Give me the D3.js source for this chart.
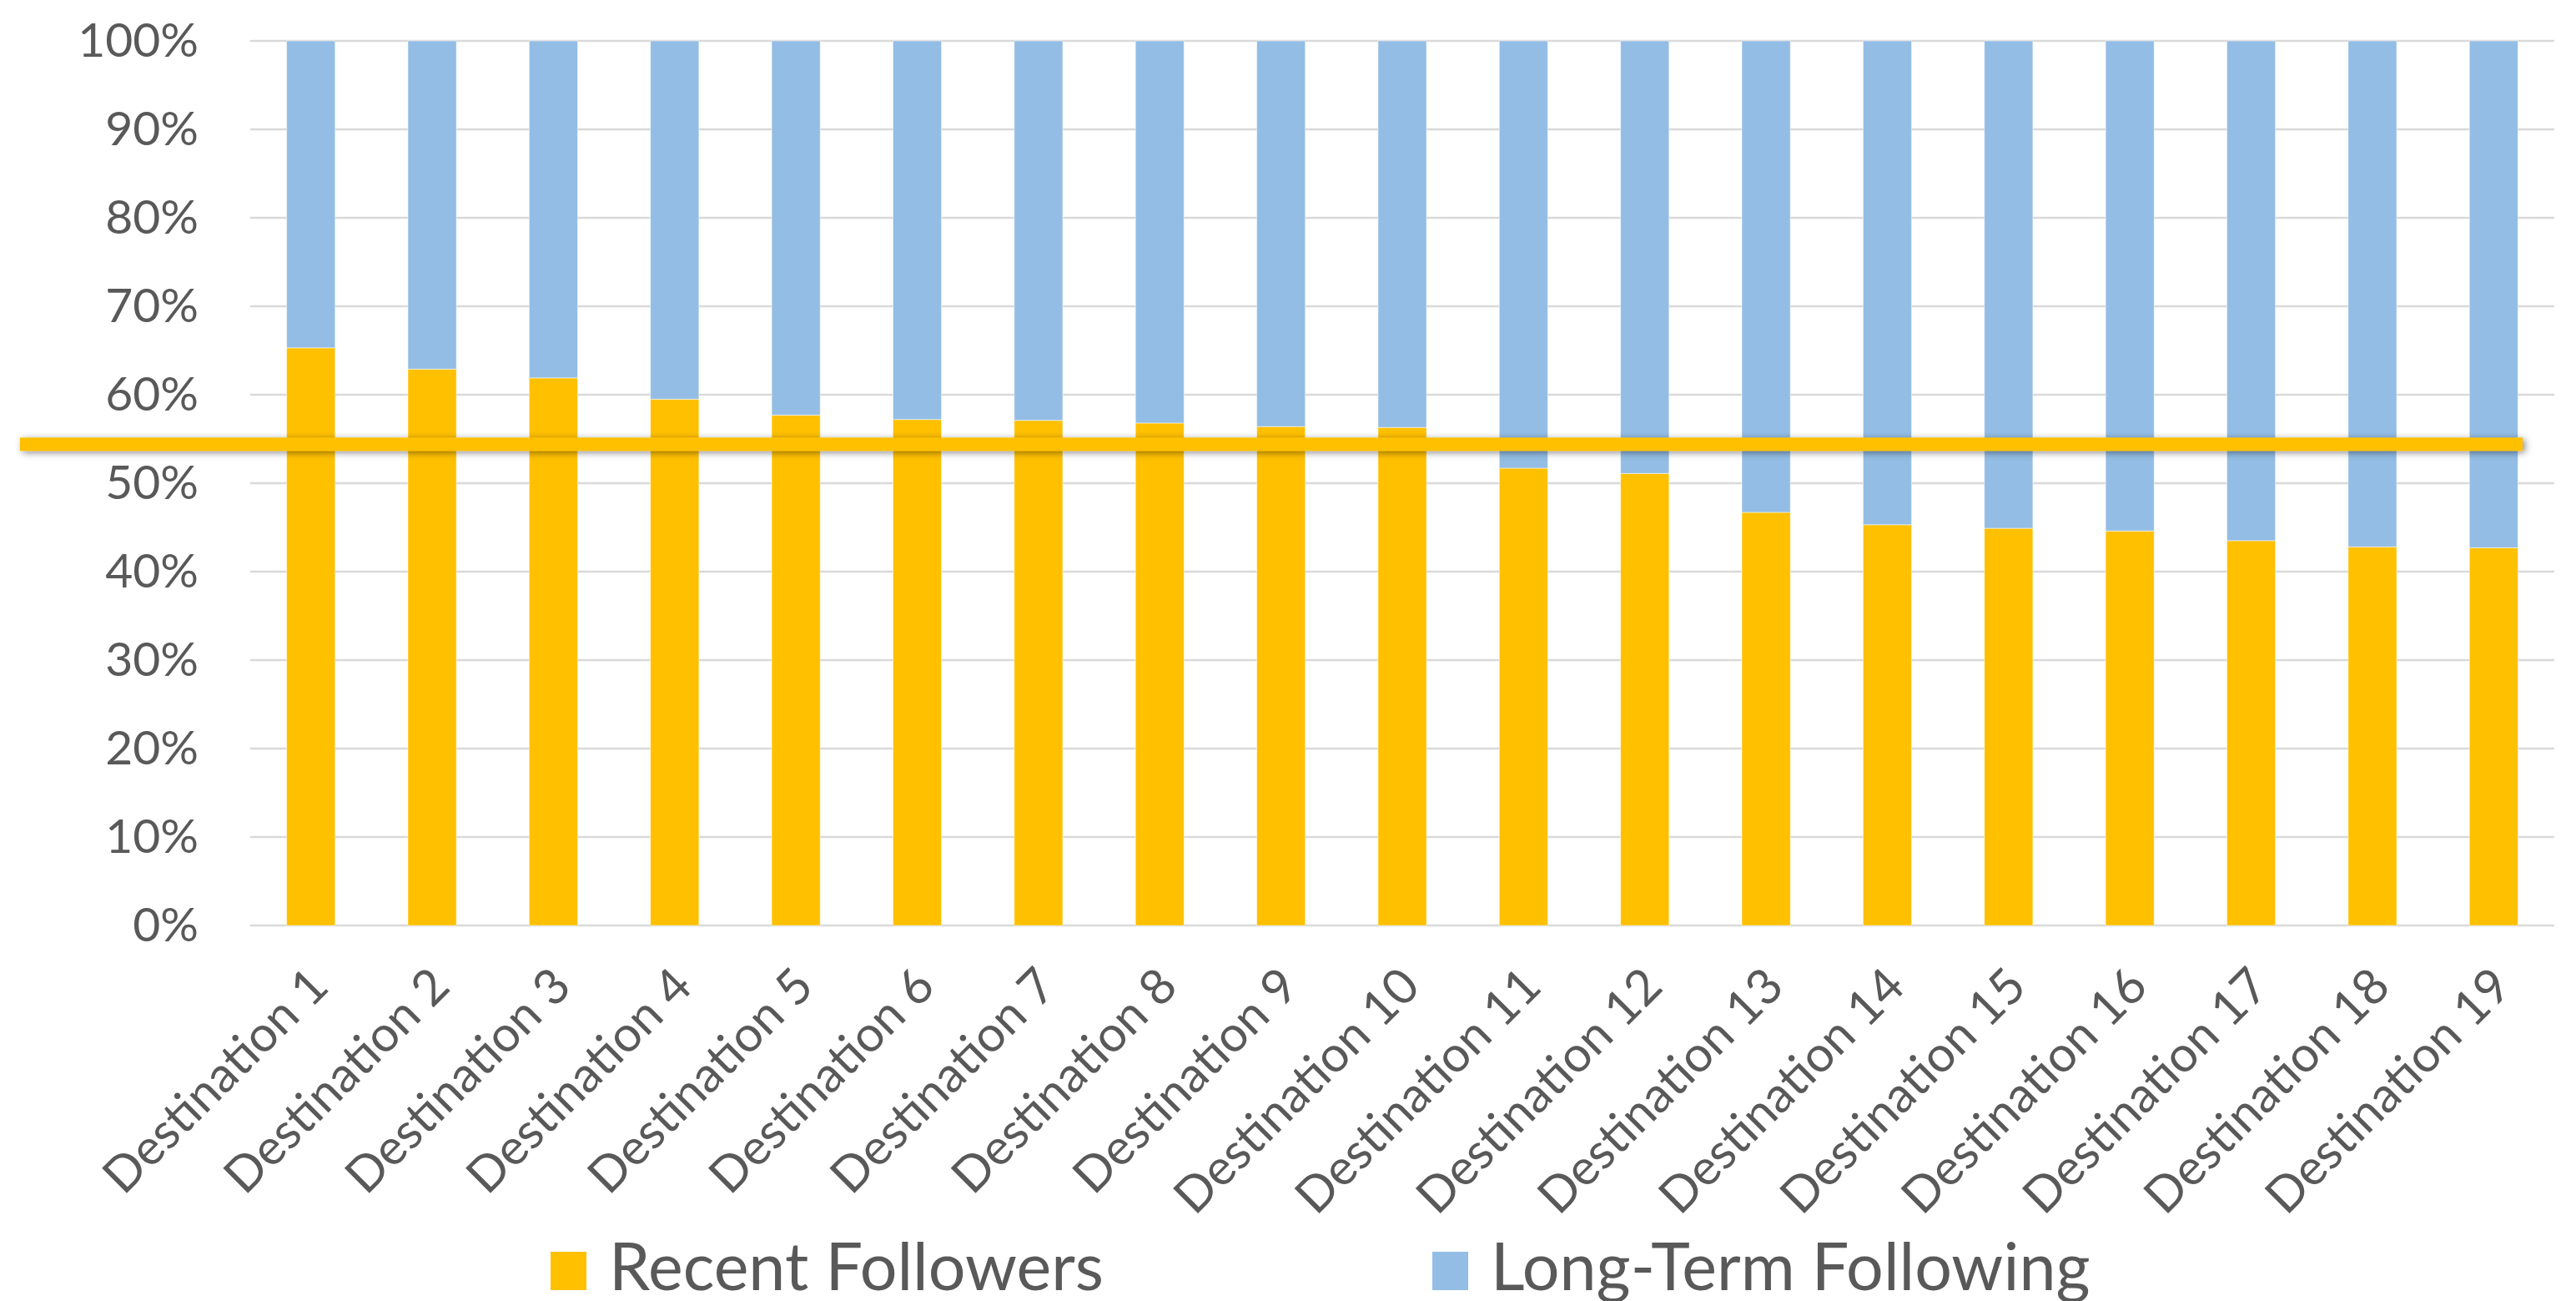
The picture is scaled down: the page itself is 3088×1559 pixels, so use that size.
<!DOCTYPE html>
<html>
<head>
<meta charset="utf-8">
<script src="https://cdn.jsdelivr.net/npm/d3@7"></script>
<style>
  html, body { margin: 0; padding: 0; background: #ffffff; }
  svg { display: block; }
  text { font-family: Lato, "Open Sans", sans-serif; fill: #595959; }
</style>
</head>
<body>
<svg id="chart" width="3088" height="1559"></svg>
<script>
// Destinations, in display order
const categories = [
  "Destination 1", "Destination 2", "Destination 3", "Destination 4", "Destination 5",
  "Destination 6", "Destination 7", "Destination 8", "Destination 9", "Destination 10",
  "Destination 11", "Destination 12", "Destination 13", "Destination 14", "Destination 15",
  "Destination 16", "Destination 17", "Destination 18", "Destination 19"
];

// Share of each audience (percent)
const recentFollowers = [65.3, 62.9, 61.9, 59.5, 57.7, 57.2, 57.1, 56.8, 56.4, 56.3,
                         51.7, 51.1, 46.7, 45.3, 44.9, 44.6, 43.5, 42.8, 42.7];
const longTermFollowing = [34.7, 37.1, 38.1, 40.5, 42.3, 42.8, 42.9, 43.2, 43.6, 43.7,
                           48.3, 48.9, 53.3, 54.7, 55.1, 55.4, 56.5, 57.2, 57.3];

const seriesNames = ["Recent Followers", "Long-Term Following"];
const seriesColors = ["#FFC000", "#93BDE4"];

// Highlight band drawn across the chart
const highlightLevel = 0.544;

const yTicks = [0, 0.1, 0.2, 0.3, 0.4, 0.5, 0.6, 0.7, 0.8, 0.9, 1.0];

const W = 3088, H = 1559;
const margin = { top: 49, right: 26, bottom: 450, left: 300 };
const innerW = W - margin.left - margin.right;
const innerH = H - margin.top - margin.bottom;

const svg = d3.select("#chart");

// Shadow for the highlight band
const defs = svg.append("defs");
const shadow = defs.append("filter")
  .attr("id", "bandShadow")
  .attr("filterUnits", "userSpaceOnUse")
  .attr("x", 0).attr("y", 0)
  .attr("width", W).attr("height", H);
shadow.append("feDropShadow")
  .attr("dx", 3).attr("dy", 2)
  .attr("stdDeviation", 4)
  .attr("flood-color", "#000")
  .attr("flood-opacity", 0.45);

const g = svg.append("g").attr("transform", `translate(${margin.left},${margin.top})`);

const x = d3.scaleBand().domain(categories).range([0, innerW]).paddingInner(0.6).paddingOuter(0.3);
const y = d3.scaleLinear().domain([0, 1]).range([innerH, 0]);

// Gridlines
g.append("g")
  .selectAll("line")
  .data(yTicks)
  .join("line")
  .attr("x1", 0).attr("x2", innerW)
  .attr("y1", d => y(d)).attr("y2", d => y(d))
  .attr("stroke", "#D9D9D9")
  .attr("stroke-width", 2.5);

// Y axis labels
const yAxis = d3.axisLeft(y).tickValues(yTicks).tickFormat(d3.format(".0%")).tickSize(0).tickPadding(62);
const yAxisG = g.append("g").call(yAxis);
yAxisG.select(".domain").remove();
yAxisG.selectAll("text")
  .attr("font-size", 57)
  .attr("fill", "#595959")
  .style("font-family", "Lato, sans-serif");

// Stacked bars (100% stacked)
const rows = categories.map((c, i) => ({
  category: c,
  [seriesNames[0]]: recentFollowers[i],
  [seriesNames[1]]: longTermFollowing[i]
}));
const stacked = d3.stack().keys(seriesNames).offset(d3.stackOffsetExpand)(rows);

g.append("g")
  .selectAll("g")
  .data(stacked)
  .join("g")
  .attr("fill", (d, i) => seriesColors[i])
  .selectAll("rect")
  .data(d => d)
  .join("rect")
  .attr("x", d => x(d.data.category))
  .attr("width", x.bandwidth())
  .attr("y", d => y(d[1]))
  .attr("height", d => y(d[0]) - y(d[1]))
  .attr("stroke", "#ffffff")
  .attr("stroke-opacity", 0.5)
  .attr("stroke-width", 1);

// X axis labels, rotated
const xAxis = d3.axisBottom(x).tickSize(0).tickPadding(0);
const xAxisG = g.append("g").attr("transform", `translate(0,${innerH})`).call(xAxis);
xAxisG.select(".domain").remove();
xAxisG.selectAll("text")
  .attr("font-size", 59)
  .attr("fill", "#595959")
  .style("font-family", "Lato, sans-serif")
  .attr("text-anchor", "end")
  .attr("dy", null)
  .attr("y", 0)
  .attr("transform", `translate(24,76) rotate(-45)`);

// Highlight band with shadow
const bandY = margin.top + y(highlightLevel);
svg.append("rect")
  .attr("x", 24).attr("width", 3000)
  .attr("y", bandY - 8).attr("height", 16)
  .attr("fill", "#FFC000")
  .attr("filter", "url(#bandShadow)");

// Legend
const legend = svg.append("g").attr("transform", "translate(0,1500)");
const legendItems = [
  { name: seriesNames[0], color: seriesColors[0], x: 660 },
  { name: seriesNames[1], color: seriesColors[1], x: 1717 }
];
const li = legend.selectAll("g").data(legendItems).join("g")
  .attr("transform", d => `translate(${d.x},0)`);
li.append("rect").attr("width", 43).attr("height", 46).attr("fill", d => d.color);
li.append("text")
  .attr("x", 70).attr("y", 46)
  .attr("font-size", 79)
  .attr("fill", "#595959")
  .text(d => d.name);
</script>
</body>
</html>
